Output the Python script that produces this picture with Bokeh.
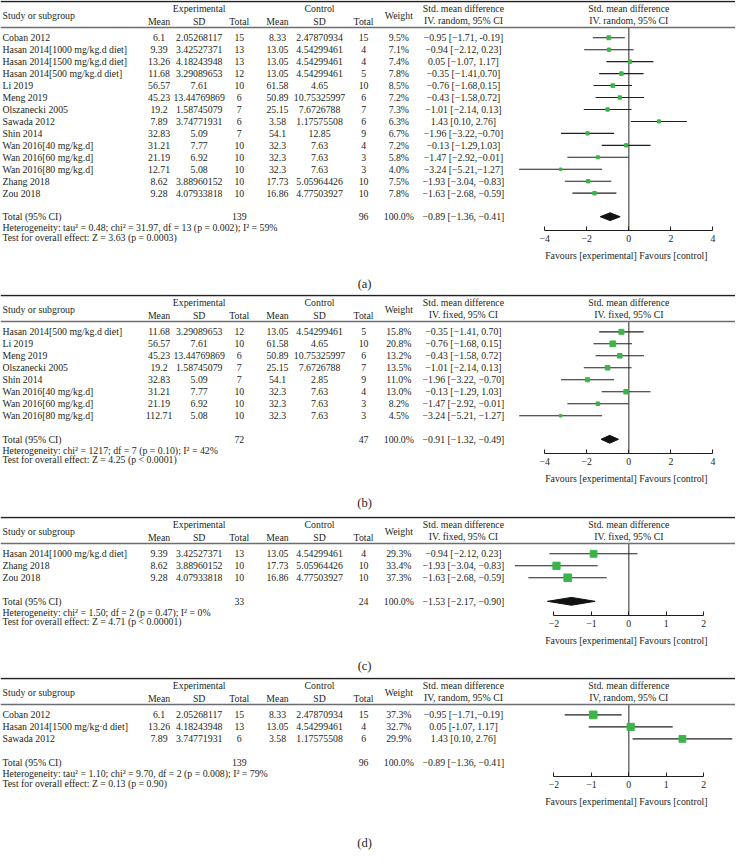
from bokeh.plotting import figure
from bokeh.layouts import column
from bokeh.models import Range1d, Span, FixedTicker, ColumnDataSource, LinearAxis
from bokeh.core.properties import value
from bokeh.embed import file_html
from bokeh.resources import INLINE

# ---------------- data ----------------
# Panel (a)
study_a = ["Coban 2012", "Hasan 2014[1000 mg/kg.d diet]", "Hasan 2014[1500 mg/kg.d diet]",
           "Hasan 2014[500 mg/kg.d diet]", "Li 2019", "Meng 2019", "Olszanecki 2005", "Sawada 2012",
           "Shin 2014", "Wan 2016[40 mg/kg.d]", "Wan 2016[60 mg/kg.d]", "Wan 2016[80 mg/kg.d]",
           "Zhang 2018", "Zou 2018"]
exp_mean_a = ["6.1", "9.39", "13.26", "11.68", "56.57", "45.23", "19.2", "7.89", "32.83", "31.21", "21.19", "12.71", "8.62", "9.28"]
exp_sd_a = ["2.05268117", "3.42527371", "4.18243948", "3.29089653", "7.61", "13.44769869", "1.58745079",
            "3.74771931", "5.09", "7.77", "6.92", "5.08", "3.88960152", "4.07933818"]
exp_n_a = ["15", "13", "13", "12", "10", "6", "7", "6", "7", "10", "10", "10", "10", "10"]
ctl_mean_a = ["8.33", "13.05", "13.05", "13.05", "61.58", "50.89", "25.15", "3.58", "54.1", "32.3", "32.3", "32.3", "17.73", "16.86"]
ctl_sd_a = ["2.47870934", "4.54299461", "4.54299461", "4.54299461", "4.65", "10.75325997", "7.6726788",
            "1.17575508", "12.85", "7.63", "7.63", "7.63", "5.05964426", "4.77503927"]
ctl_n_a = ["15", "4", "4", "5", "10", "6", "7", "6", "9", "4", "3", "3", "10", "10"]
weight_a = [9.5, 7.1, 7.4, 7.8, 8.5, 7.2, 7.3, 6.3, 6.7, 7.2, 5.8, 4.0, 7.5, 7.8]
smd_a = [-0.95, -0.94, 0.05, -0.35, -0.76, -0.43, -1.01, 1.43, -1.96, -0.13, -1.47, -3.24, -1.93, -1.63]
lo_a = [-1.71, -2.12, -1.07, -1.41, -1.68, -1.58, -2.14, 0.10, -3.22, -1.29, -2.92, -5.21, -3.04, -2.68]
hi_a = [-0.19, 0.23, 1.17, 0.70, 0.15, 0.72, 0.13, 2.76, -0.70, 1.03, -0.01, -1.27, -0.83, -0.59]
ci_text_a = ["−0.95 [−1.71, -0.19]", "−0.94 [−2.12, 0.23]", "0.05 [−1.07, 1.17]", "−0.35 [−1.41,0.70]",
             "−0.76 [−1.68,0.15]", "−0.43 [−1.58,0.72]", "−1.01 [−2.14, 0.13]", "1.43 [0.10, 2.76]",
             "−1.96 [−3.22,−0.70]", "−0.13 [−1.29,1.03]", "−1.47 [−2.92,−0.01]", "−3.24 [−5.21,−1.27]",
             "−1.93 [−3.04, −0.83]", "−1.63 [−2.68, −0.59]"]
total_a = ["139", "96", "100.0%", "−0.89 [−1.36, −0.41]"]
pooled_a = [-0.89, -1.36, -0.41]
het_a = "Heterogeneity: tau² = 0.48; chi² = 31.97, df = 13 (p = 0.002); I² = 59%"
test_a = "Test for overall effect: Z = 3.63 (p = 0.0003)"
method_a = "IV. random, 95% CI"
ticks_a = [-4, -2, 0, 2, 4]

# Panel (b)
study_b = ["Hasan 2014[500 mg/kg.d diet]", "Li 2019", "Meng 2019", "Olszanecki 2005", "Shin 2014",
           "Wan 2016[40 mg/kg.d]", "Wan 2016[60 mg/kg.d]", "Wan 2016[80 mg/kg.d]"]
exp_mean_b = ["11.68", "56.57", "45.23", "19.2", "32.83", "31.21", "21.19", "112.71"]
exp_sd_b = ["3.29089653", "7.61", "13.44769869", "1.58745079", "5.09", "7.77", "6.92", "5.08"]
exp_n_b = ["12", "10", "6", "7", "7", "10", "10", "10"]
ctl_mean_b = ["13.05", "61.58", "50.89", "25.15", "54.1", "32.3", "32.3", "32.3"]
ctl_sd_b = ["4.54299461", "4.65", "10.75325997", "7.6726788", "2.85", "7.63", "7.63", "7.63"]
ctl_n_b = ["5", "10", "6", "7", "9", "4", "3", "3"]
weight_b = [15.8, 20.8, 13.2, 13.5, 11.0, 13.0, 8.2, 4.5]
smd_b = [-0.35, -0.76, -0.43, -1.01, -1.96, -0.13, -1.47, -3.24]
lo_b = [-1.41, -1.68, -1.58, -2.14, -3.22, -1.29, -2.92, -5.21]
hi_b = [0.70, 0.15, 0.72, 0.13, -0.70, 1.03, -0.01, -1.27]
ci_text_b = ["−0.35 [−1.41, 0.70]", "−0.76 [−1.68, 0.15]", "−0.43 [−1.58, 0.72]", "−1.01 [−2.14, 0.13]",
             "−1.96 [−3.22, −0.70]", "−0.13 [−1.29, 1.03]", "−1.47 [−2.92, −0.01]", "−3.24 [−5.21, −1.27]"]
total_b = ["72", "47", "100.0%", "−0.91 [−1.32, −0.49]"]
pooled_b = [-0.91, -1.32, -0.49]
het_b = "Heterogeneity: chi² = 1217; df = 7 (p = 0.10); I² = 42%"
test_b = "Test for overall effect: Z = 4.25 (p < 0.0001)"
method_b = "IV. fixed, 95% CI"
ticks_b = [-4, -2, 0, 2, 4]

# Panel (c)
study_c = ["Hasan 2014[1000 mg/kg.d diet]", "Zhang 2018", "Zou 2018"]
exp_mean_c = ["9.39", "8.62", "9.28"]
exp_sd_c = ["3.42527371", "3.88960152", "4.07933818"]
exp_n_c = ["13", "10", "10"]
ctl_mean_c = ["13.05", "17.73", "16.86"]
ctl_sd_c = ["4.54299461", "5.05964426", "4.77503927"]
ctl_n_c = ["4", "10", "10"]
weight_c = [29.3, 33.4, 37.3]
smd_c = [-0.94, -1.93, -1.63]
lo_c = [-2.12, -3.04, -2.68]
hi_c = [0.23, -0.83, -0.59]
ci_text_c = ["−0.94 [−2.12, 0.23]", "−1.93 [−3.04, −0.83]", "−1.63 [−2.68, −0.59]"]
total_c = ["33", "24", "100.0%", "−1.53 [−2.17, −0.90]"]
pooled_c = [-1.53, -2.17, -0.90]
het_c = "Heterogeneity: chi² = 1.50; df = 2 (p = 0.47); I² = 0%"
test_c = "Test for overall effect: Z = 4.71 (p < 0.00001)"
method_c = "IV. fixed, 95% CI"
ticks_c = [-2, -1, 0, 1, 2]

# Panel (d)
study_d = ["Coban 2012", "Hasan 2014[1500 mg/kg·d diet]", "Sawada 2012"]
exp_mean_d = ["6.1", "13.26", "7.89"]
exp_sd_d = ["2.05268117", "4.18243948", "3.74771931"]
exp_n_d = ["15", "13", "6"]
ctl_mean_d = ["8.33", "13.05", "3.58"]
ctl_sd_d = ["2.47870934", "4.54299461", "1.17575508"]
ctl_n_d = ["15", "4", "6"]
weight_d = [37.3, 32.7, 29.9]
smd_d = [-0.95, 0.05, 1.43]
lo_d = [-1.71, -1.07, 0.10]
hi_d = [-0.19, 1.17, 2.76]
ci_text_d = ["−0.95 [−1.71,−0.19]", "0.05 [-1.07, 1.17]", "1.43 [0.10, 2.76]"]
total_d = ["139", "96", "100.0%", "−0.89 [−1.36, −0.41]"]
pooled_d = None
het_d = "Heterogeneity: tau² = 1.10; chi² = 9.70, df = 2 (p = 0.008); I² = 79%"
test_d = "Test for overall effect: Z = 0.13 (p = 0.90)"
method_d = "IV, random, 95% CI"
ticks_d = [-2, -1, 0, 1, 2]

panel_labels = ["(a)", "(b)", "(c)", "(d)"]
favours_label = "Favours [experimental]   Favours [control]"

# ---------------- layout ----------------
FONT = "Liberation Serif"
FS = "9.8px"
TXT = "#231f20"
GREEN = "#3cb44a"

REF_W = 751.0
ZERO_X = 642.0
BOUNDS = [0, 300, 526, 690, 868]
PX_W, PX_H = 735, 852
LABEL_Y = [289, 212, 152, 168]
SCALE = [21.5, 21.5, 38.3, 38.3]
COLX = dict(name=2, em=162, es=203, en=244, cm=283, cs=326, cn=371, w=407, ci=473)

panels = [
    (study_a, exp_mean_a, exp_sd_a, exp_n_a, ctl_mean_a, ctl_sd_a, ctl_n_a, weight_a, smd_a, lo_a, hi_a,
     ci_text_a, total_a, pooled_a, het_a, test_a, method_a, ticks_a),
    (study_b, exp_mean_b, exp_sd_b, exp_n_b, ctl_mean_b, ctl_sd_b, ctl_n_b, weight_b, smd_b, lo_b, hi_b,
     ci_text_b, total_b, pooled_b, het_b, test_b, method_b, ticks_b),
    (study_c, exp_mean_c, exp_sd_c, exp_n_c, ctl_mean_c, ctl_sd_c, ctl_n_c, weight_c, smd_c, lo_c, hi_c,
     ci_text_c, total_c, pooled_c, het_c, test_c, method_c, ticks_c),
    (study_d, exp_mean_d, exp_sd_d, exp_n_d, ctl_mean_d, ctl_sd_d, ctl_n_d, weight_d, smd_d, lo_d, hi_d,
     ci_text_d, total_d, pooled_d, het_d, test_d, method_d, ticks_d),
]


def txt(p, xs, ys, texts, align="center", size=FS, rng="default"):
    src = ColumnDataSource(dict(x=xs, y=ys, t=texts))
    p.text(x="x", y="y", text="t", source=src, text_font=value(FONT), text_font_size=size,
           text_align=align, text_baseline="middle", text_color=TXT, x_range_name=rng)


figs = []
for i, pan in enumerate(panels):
    (study, em, es, en, cm, cs, cn, wt, smd, lo, hi, cit, tot, pooled, het, test, method, ticks) = pan
    h_ref = BOUNDS[i + 1] - BOUNDS[i]
    ph = round(BOUNDS[i + 1] * PX_H / 868) - round(BOUNDS[i] * PX_H / 868)
    T = 1.0
    HL = T + 26.5
    ry = [T + 37 + k * 12.2 for k in range(len(study))]
    total_y = ry[-1] + 24
    het_y = total_y + 11
    test_y = total_y + 21
    axis_y = total_y + 14

    p = figure(width=PX_W, height=ph, x_range=Range1d(0, REF_W), y_range=Range1d(h_ref, 0),
               toolbar_location=None, output_backend="svg", x_axis_location=None, y_axis_location=None,
               min_border=0, outline_line_color=None)
    p.xgrid.visible = False
    p.ygrid.visible = False
    k = SCALE[i]
    p.extra_x_ranges = {"forest": Range1d((0 - ZERO_X) / k, (REF_W - ZERO_X) / k)}

    p.add_layout(Span(location=T, dimension="width", line_color="#231f20", line_width=1.6))
    p.add_layout(Span(location=HL, dimension="width", line_color="#6d6e71", line_width=1.6))
    txt(p, [203, 326, 473], [T + 7.5] * 3, ["Experimental", "Control", "Std. mean difference"])
    txt(p, [COLX["name"]], [T + 14.5], ["Study or subgroup"], align="left")
    txt(p, [COLX["w"]], [T + 14.5], ["Weight"])
    txt(p, [COLX[c] for c in ["em", "es", "en", "cm", "cs", "cn"]], [T + 20.5] * 6,
        ["Mean", "SD", "Total", "Mean", "SD", "Total"])
    txt(p, [473], [T + 19], [method])
    txt(p, [COLX["name"]] * len(study), ry, study, align="left")
    for key, col in [("em", em), ("es", es), ("en", en), ("cm", cm), ("cs", cs), ("cn", cn)]:
        txt(p, [COLX[key]] * len(col), ry, col)
    txt(p, [COLX["w"]] * len(wt), ry, ["%.1f%%" % w for w in wt])
    txt(p, [COLX["ci"]] * len(cit), ry, cit)
    txt(p, [COLX["name"]], [total_y], ["Total (95% CI)"], align="left")
    txt(p, [COLX["en"], COLX["cn"], COLX["w"], COLX["ci"]], [total_y] * 4, tot)
    txt(p, [COLX["name"]] * 2, [het_y, test_y], [het, test], align="left")
    txt(p, [372], [LABEL_Y[i]], [panel_labels[i]], size="12.5px")

    # ---- forest part ----
    txt(p, [0, 0], [T + 7.5, T + 19], ["Std. mean difference", method], rng="forest")
    p.segment(x0=[0], y0=[HL], x1=[0], y1=[axis_y], line_color="#4d4d4f", line_width=1.2,
              x_range_name="forest")
    p.segment(x0=lo, y0=ry, x1=hi, y1=ry, line_color="#231f20", line_width=1.1, x_range_name="forest")
    p.scatter(x=smd, y=ry, marker="square", size=[1.25 * w ** 0.5 for w in wt],
              fill_color=GREEN, line_color=GREEN, x_range_name="forest")
    if pooled is not None:
        c, l, r = pooled
        p.patch(x=[l, c, r, c], y=[total_y, total_y - 4, total_y, total_y + 4],
                fill_color="#111111", line_color="#111111", x_range_name="forest")
    ax = LinearAxis(x_range_name="forest", fixed_location=axis_y)
    ax.ticker = FixedTicker(ticks=ticks)
    ax.major_label_overrides = {tk: ("−%d" % -tk if tk < 0 else "%d" % tk) for tk in ticks}
    ax.bounds = (ticks[0], ticks[-1])
    ax.major_tick_in = 4
    ax.major_tick_out = 0
    ax.minor_tick_line_color = None
    ax.axis_line_color = "#231f20"
    ax.major_tick_line_color = "#231f20"
    ax.major_label_text_font = FONT
    ax.major_label_text_font_size = FS
    ax.major_label_text_color = TXT
    ax.major_label_standoff = 5
    ax.axis_label = None
    p.add_layout(ax, "below")
    txt(p, [0], [axis_y + 26], [favours_label], rng="forest")

    figs.append(p)

layout = column(*figs, spacing=0)
open("out.html", "w").write(file_html(layout, INLINE))
